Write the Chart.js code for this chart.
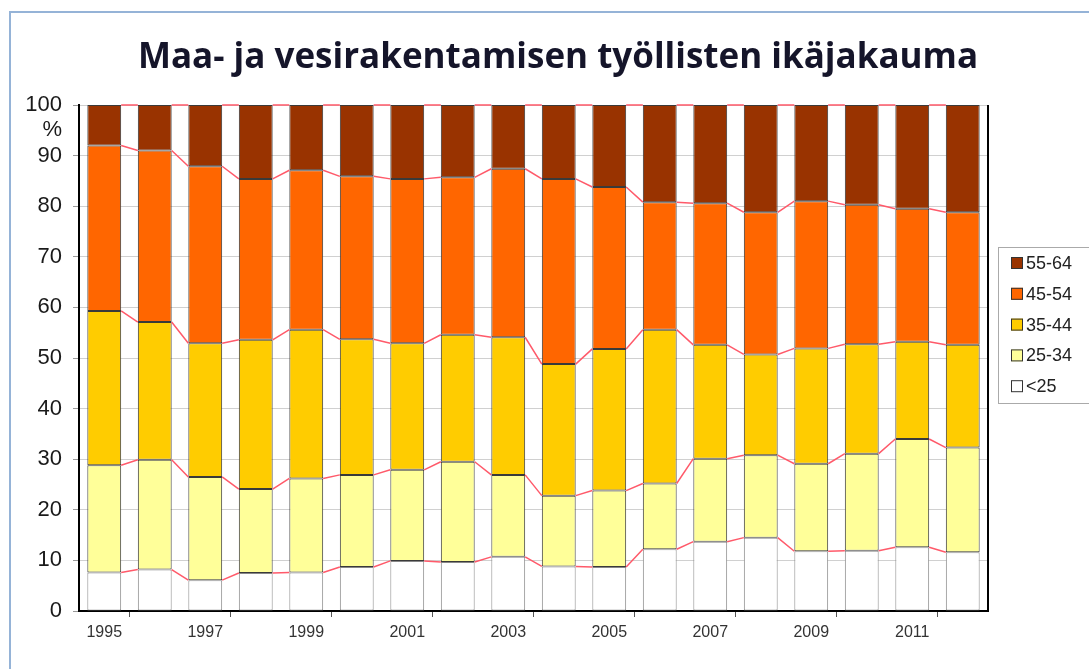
<!DOCTYPE html>
<html>
<head>
<meta charset="utf-8">
<script src="https://cdn.jsdelivr.net/npm/chart.js"></script>
<style>
  html, body { margin: 0; padding: 0; background: #fff; }
  #wrap { width: 1089px; height: 669px; }
</style>
</head>
<body>
<div id="wrap"><canvas id="myChart" width="1089" height="669"></canvas></div>
<script>
  const title = 'Maa- ja vesirakentamisen työllisten ikäjakauma';
  const years = ['1995', '1996', '1997', '1998', '1999', '2000', '2001', '2002', '2003',
                 '2004', '2005', '2006', '2007', '2008', '2009', '2010', '2011', '2012'];
  const yTicks = [0, 10, 20, 30, 40, 50, 60, 70, 80, 90, 100];

  // shares in percent
  const under25 = [7.6, 8.2, 6.1, 7.5, 7.6, 8.7, 9.9, 9.7, 10.7, 8.8, 8.7, 12.2, 13.7, 14.5, 11.8, 11.9, 12.6, 11.6];
  const age25_34 = [21.2, 21.7, 20.4, 16.6, 18.6, 18.2, 18.0, 19.8, 16.2, 14.0, 15.1, 13.0, 16.4, 16.3, 17.3, 19.2, 21.4, 20.7];
  const age35_44 = [30.5, 27.2, 26.4, 29.5, 29.4, 26.8, 25.0, 25.1, 27.2, 26.0, 28.0, 30.4, 22.5, 19.9, 22.8, 21.6, 19.2, 20.3];
  const age45_54 = [32.7, 33.9, 35.0, 31.8, 31.5, 32.2, 32.5, 31.1, 33.3, 36.6, 32.0, 25.2, 28.0, 28.1, 29.1, 27.6, 26.3, 26.2];
  const age55_64 = [8.0, 9.0, 12.1, 14.6, 12.9, 14.1, 14.6, 14.3, 12.6, 14.6, 16.2, 19.2, 19.4, 21.2, 19.0, 19.7, 20.5, 21.2];

  const seriesNames = ['<25', '25-34', '35-44', '45-54', '55-64'];
  const seriesColors = ['#FFFFFF', '#FFFF99', '#FFCC00', '#FF6600', '#993300'];

  const tickFont = "'Liberation Sans', Arial, sans-serif";

  // outer frame, title and the "%" unit
  const decorPlugin = {
    id: 'decor',
    beforeDraw(chart) {
      const ctx = chart.ctx;
      ctx.save();
      ctx.fillStyle = '#fff';
      ctx.fillRect(0, 0, chart.width, chart.height);
      ctx.strokeStyle = '#95B3D7';
      ctx.lineWidth = 2;
      ctx.beginPath();
      ctx.moveTo(10, chart.height);
      ctx.lineTo(10, 12);
      ctx.lineTo(chart.width, 12);
      ctx.stroke();
      ctx.fillStyle = '#15152a';
      ctx.font = "bold 35px 'Open Sans', Lato, sans-serif";
      ctx.textAlign = 'center';
      ctx.textBaseline = 'alphabetic';
      ctx.fillText(title, 558, 68);
      ctx.restore();
    },
    afterDraw(chart) {
      const ctx = chart.ctx;
      const y = chart.scales.y;
      const a = chart.chartArea;
      ctx.save();
      ctx.fillStyle = '#1a1a1a';
      ctx.font = '22px ' + tickFont;
      ctx.textAlign = 'right';
      ctx.textBaseline = 'middle';
      ctx.fillText('%', 62, y.getPixelForValue(95));
      // right side of the plot frame
      ctx.strokeStyle = '#000';
      ctx.lineWidth = 2;
      ctx.beginPath();
      ctx.moveTo(a.right, a.top);
      ctx.lineTo(a.right, a.bottom);
      ctx.stroke();
      ctx.restore();
    }
  };

  // Excel style series lines between the stacked bars
  const seriesLinesPlugin = {
    id: 'seriesLines',
    afterDatasetsDraw(chart) {
      const ctx = chart.ctx;
      ctx.save();
      ctx.strokeStyle = '#FF5A6A';
      ctx.lineWidth = 1.5;
      chart.data.datasets.forEach((ds, d) => {
        const bars = chart.getDatasetMeta(d).data;
        ctx.beginPath();
        for (let i = 0; i < bars.length - 1; i++) {
          const a = bars[i], b = bars[i + 1];
          ctx.moveTo(a.x + a.width / 2, a.y);
          ctx.lineTo(b.x - b.width / 2, b.y);
        }
        ctx.stroke();
      });
      ctx.restore();
    }
  };

  // boxed legend on the right, top series first
  const legendPlugin = {
    id: 'boxLegend',
    afterDraw(chart) {
      const ctx = chart.ctx;
      ctx.save();
      ctx.strokeStyle = '#aaa';
      ctx.lineWidth = 1;
      ctx.strokeRect(998.5, 247.5, 120, 156);
      ctx.font = '18px ' + tickFont;
      ctx.textBaseline = 'middle';
      ctx.textAlign = 'left';
      const ds = chart.data.datasets.slice().reverse();
      ds.forEach((d, i) => {
        const cy = 263 + i * 30.8;
        ctx.fillStyle = d.backgroundColor;
        ctx.fillRect(1011, cy - 6, 12, 12);
        ctx.strokeStyle = '#333';
        ctx.strokeRect(1011.5, cy - 5.5, 11, 11);
        ctx.fillStyle = '#222';
        ctx.fillText(d.label, 1026, cy + 1);
      });
      ctx.restore();
    }
  };

  const seriesData = [under25, age25_34, age35_44, age45_54, age55_64];

  new Chart(document.getElementById('myChart').getContext('2d'), {
    type: 'bar',
    data: {
      labels: years,
      datasets: seriesData.map((vals, k) => ({
        label: seriesNames[k],
        data: vals,
        backgroundColor: seriesColors[k],
        borderColor: k === 0 ? '#888' : '#3a3a3a',
        borderWidth: 1,
        borderSkipped: false,
        categoryPercentage: 1,
        barPercentage: 0.67
      }))
    },
    options: {
      responsive: false,
      animation: false,
      layout: { padding: { top: 105, right: 101, left: 0, bottom: 0 } },
      plugins: {
        legend: { display: false },
        title: { display: false },
        tooltip: { enabled: false }
      },
      scales: {
        x: {
          stacked: true,
          offset: true,
          border: { color: '#000', width: 2 },
          grid: {
            offset: true,
            drawOnChartArea: false,
            tickLength: 6,
            tickColor: c => (c.index % 2 === 1 ? '#555' : 'rgba(0,0,0,0)')
          },
          ticks: {
            autoSkip: false,
            maxRotation: 0,
            padding: 6,
            color: '#333',
            font: { family: tickFont, size: 16 },
            callback: (v, i) => (i % 2 === 0 ? years[i] : '')
          },
          afterFit: s => { s.height = 58; }
        },
        y: {
          stacked: true,
          min: 0,
          max: 100,
          border: { color: '#000', width: 2 },
          grid: { color: '#d0d0d0', tickLength: 6, tickColor: '#999' },
          afterBuildTicks: s => { s.ticks = yTicks.map(v => ({ value: v })); },
          ticks: {
            padding: 11,
            color: '#1a1a1a',
            font: { family: tickFont, size: 22 }
          },
          afterFit: s => { s.width = 79; }
        }
      }
    },
    plugins: [decorPlugin, seriesLinesPlugin, legendPlugin]
  });
</script>
</body>
</html>
